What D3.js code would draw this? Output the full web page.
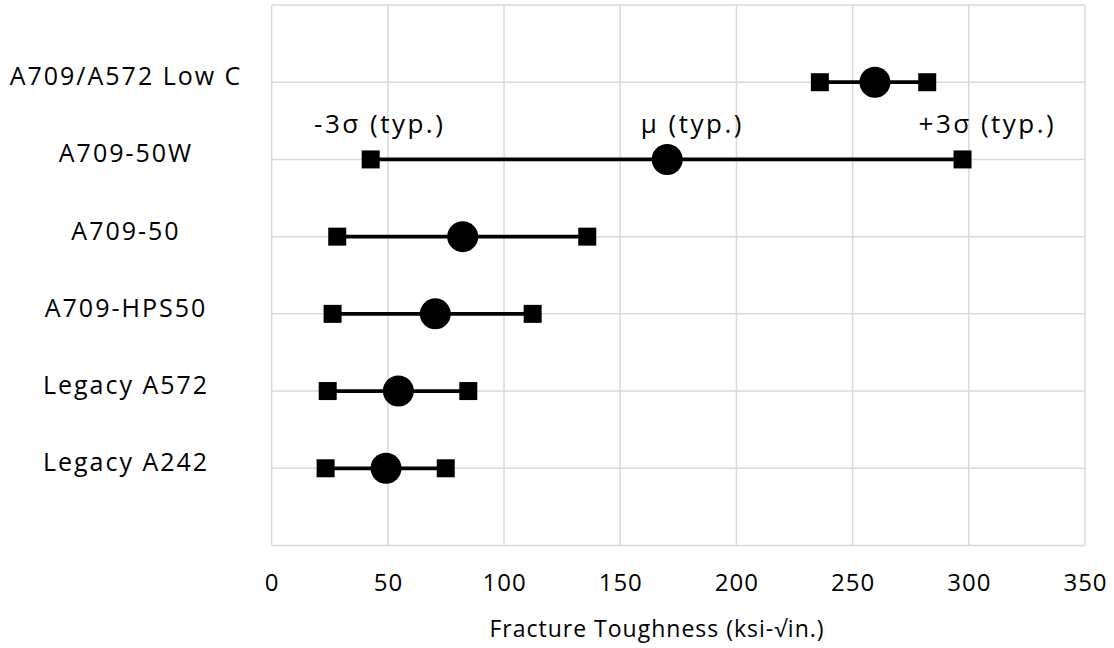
<!DOCTYPE html>
<html>
<head>
<meta charset="utf-8">
<script src="https://cdn.jsdelivr.net/npm/d3@7"></script>
<style>
  html, body { margin: 0; padding: 0; background: #fff; }
  svg { display: block; }
  text { font-family: "Open Sans", "Noto Sans", sans-serif; fill: #000; }
</style>
</head>
<body>
<svg id="chart" width="1114" height="648"></svg>
<script>
// ---- data ----
const categories = ["A709/A572 Low C", "A709-50W", "A709-50", "A709-HPS50", "Legacy A572", "Legacy A242"];
const lowerValues = [235.9, 42.6, 28.2, 26.2, 24.1, 23.2];   // -3σ
const meanValues  = [259.6, 170.2, 82.2, 70.4, 54.5, 49.2];  // μ
const upperValues = [282.1, 297.3, 135.8, 112.3, 84.6, 74.9]; // +3σ
const xTickValues = [0, 50, 100, 150, 200, 250, 300, 350];
const annotationTexts = ["-3σ (typ.)", "μ (typ.)", "+3σ (typ.)"];
const annotationX = [46.5, 181, 308];
const xAxisTitle = "Fracture Toughness (ksi-√in.)";

// ---- layout ----
const svg = d3.select("#chart");
const plotLeft = 271.7, plotRight = 1085, plotTop = 5, plotBottom = 545.5;

const x = d3.scaleLinear().domain([0, 350]).range([plotLeft, plotRight]);
// categories at positions 6..1 (top to bottom) on a 0..7 scale
const y = d3.scaleLinear().domain([0, 7]).range([plotBottom, plotTop]);
const rowPos = categories.map((c, i) => categories.length - i);

const gridColor = "#d9d9d9";

// vertical gridlines
svg.append("g").selectAll("line").data(xTickValues).join("line")
  .attr("x1", d => x(d)).attr("x2", d => x(d))
  .attr("y1", plotTop).attr("y2", plotBottom)
  .attr("stroke", gridColor).attr("stroke-width", 1.5);

// horizontal gridlines
svg.append("g").selectAll("line").data(d3.range(0, 8)).join("line")
  .attr("x1", plotLeft).attr("x2", plotRight)
  .attr("y1", d => y(d)).attr("y2", d => y(d))
  .attr("stroke", gridColor).attr("stroke-width", 1.5);

// x tick labels
svg.append("g").selectAll("text").data(xTickValues).join("text")
  .attr("x", d => x(d) + 0.5).attr("y", 591)
  .attr("text-anchor", "middle")
  .style("font-size", "24px")
  .style("letter-spacing", "1px")
  .text(d => d);

// category labels
svg.append("g").selectAll("text").data(categories).join("text")
  .attr("x", 126).attr("y", (d, i) => y(rowPos[i]) + 3)
  .attr("text-anchor", "middle")
  .style("font-size", "25px")
  .style("letter-spacing", "2px")
  .text(d => d);

// axis title
svg.append("text")
  .attr("x", 657).attr("y", 637)
  .attr("text-anchor", "middle")
  .style("font-size", "23px")
  .style("letter-spacing", "1px")
  .text(xAxisTitle);

// range lines
const rows = svg.append("g");
rows.selectAll("line").data(categories).join("line")
  .attr("x1", (d, i) => x(lowerValues[i]))
  .attr("x2", (d, i) => x(upperValues[i]))
  .attr("y1", (d, i) => y(rowPos[i]))
  .attr("y2", (d, i) => y(rowPos[i]))
  .attr("stroke", "#000").attr("stroke-width", 3.7);

// squares (lower / upper)
const sq = 18;
const ends = [];
categories.forEach((c, i) => {
  ends.push({ v: lowerValues[i], r: rowPos[i] });
  ends.push({ v: upperValues[i], r: rowPos[i] });
});
rows.selectAll("rect").data(ends).join("rect")
  .attr("x", d => x(d.v) - sq / 2)
  .attr("y", d => y(d.r) - sq / 2)
  .attr("width", sq).attr("height", sq)
  .attr("fill", "#000");

// circles (mean)
rows.selectAll("circle").data(categories).join("circle")
  .attr("cx", (d, i) => x(meanValues[i]))
  .attr("cy", (d, i) => y(rowPos[i]))
  .attr("r", 15.5)
  .attr("fill", "#000");

// annotations
svg.append("g").selectAll("text").data(annotationTexts).join("text")
  .attr("x", (d, i) => x(annotationX[i]))
  .attr("y", 133)
  .attr("text-anchor", "middle")
  .style("font-size", "26px")
  .style("letter-spacing", "2.5px")
  .text(d => d);
</script>
</body>
</html>
